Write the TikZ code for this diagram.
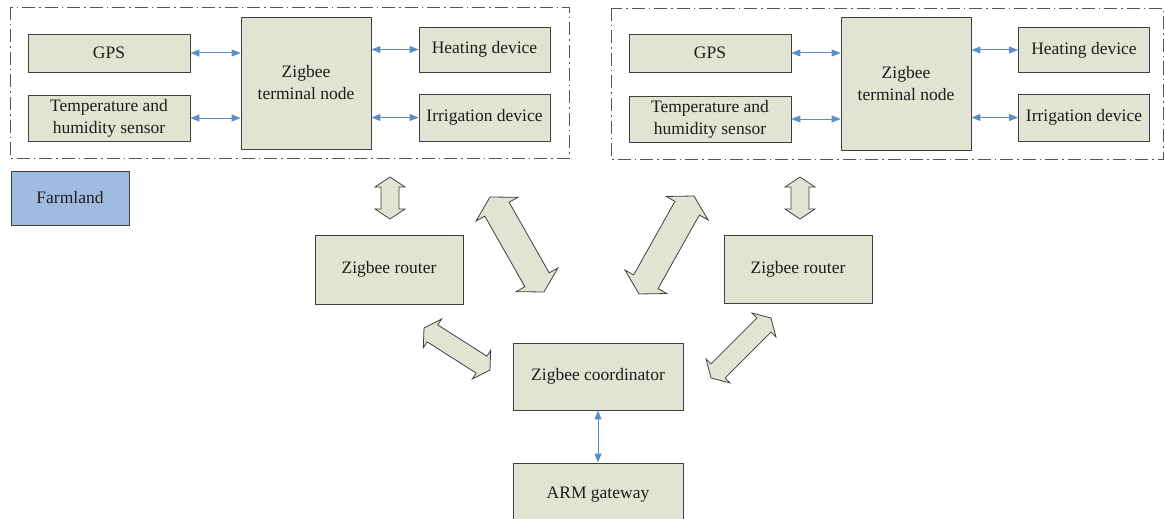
\documentclass[tikz,border=0pt]{standalone}
\usepackage{fontspec}
\setmainfont{Liberation Serif}
\usetikzlibrary{calc,arrows.meta}
\definecolor{boxfill}{HTML}{E1E3D3}
\definecolor{boxline}{HTML}{404040}
\definecolor{farmfill}{HTML}{A0BBE0}
\definecolor{lnk}{HTML}{5B8DCB}
\definecolor{txt}{HTML}{1E1E1E}
\definecolor{dashc}{HTML}{555555}
% double block arrow: from, to, shaft half-width, head half-width, head length (pt)
\newcommand\dblarrow[5]{%
  \draw[blockarrow] let \p1=(#1), \p2=(#2),
     \n1={scalar(atan2(\y2-\y1,\x2-\x1))}, \n2={scalar(veclen(\x2-\x1,\y2-\y1))-#5} in
    (\p1) -- ($(\p1)+(\n1:#5pt)+(\n1+90:#4pt)$) -- ($(\p1)+(\n1:#5pt)+(\n1+90:#3pt)$)
    -- ($(\p1)+(\n1:\n2pt)+(\n1+90:#3pt)$) -- ($(\p1)+(\n1:\n2pt)+(\n1+90:#4pt)$)
    -- (\p2) -- ($(\p1)+(\n1:\n2pt)+(\n1-90:#4pt)$) -- ($(\p1)+(\n1:\n2pt)+(\n1-90:#3pt)$)
    -- ($(\p1)+(\n1:#5pt)+(\n1-90:#3pt)$) -- ($(\p1)+(\n1:#5pt)+(\n1-90:#4pt)$) -- cycle;}
\tikzset{
  box/.style={draw=boxline, fill=boxfill, line width=0.9pt, text=txt, align=center,
    inner sep=0pt, font=\fontsize{17.5}{22}\selectfont},
  farmbox/.style={box, fill=farmfill},
  groupbox/.style={draw=dashc, line width=0.8pt, dash pattern=on 13pt off 4pt on 1.5pt off 4pt},
  link/.style={draw=lnk, line width=1pt, {Triangle[length=9pt,width=7pt]}-{Triangle[length=9pt,width=7pt]}},
  blockarrow/.style={draw=boxline, fill=boxfill, line width=0.8pt, line join=miter}
}
\begin{document}
\begin{tikzpicture}[x=1pt,y=-1pt]
\useasboundingbox (0,0) rectangle (1165,519);
\fill[white] (0,0) rectangle (1165,519);
\clip (0,0) rectangle (1165,519);

% left farmland group
\draw[groupbox] (10,7) rectangle (569,158);
\node[box, minimum width=162, minimum height=38] (gpsL) at (109,53) {GPS};
\node[box, minimum width=162, minimum height=46] (tempL) at (109,118) {Temperature and\\humidity sensor};
\node[box, minimum width=130, minimum height=132] (termL) at (306,83) {Zigbee\\terminal node};
\node[box, minimum width=131, minimum height=45] (heatL) at (484.5,49.5) {Heating device};
\node[box, minimum width=131, minimum height=47] (irrL) at (484.5,117.5) {Irrigation device};
\draw[link] (gpsL.east) -- (gpsL.east -| termL.west);
\draw[link] (tempL.east) -- (tempL.east -| termL.west);
\draw[link] (heatL.west -| termL.east) -- (heatL.west);
\draw[link] (irrL.west -| termL.east) -- (irrL.west);

% right farmland group
\draw[groupbox] (611,8) rectangle (1163,159);
\node[box, minimum width=162, minimum height=38] (gpsR) at (710,53) {GPS};
\node[box, minimum width=162, minimum height=46] (tempR) at (710,119) {Temperature and\\humidity sensor};
\node[box, minimum width=130, minimum height=133] (termR) at (906,83.5) {Zigbee\\terminal node};
\node[box, minimum width=131, minimum height=45] (heatR) at (1084,50) {Heating device};
\node[box, minimum width=131, minimum height=47] (irrR) at (1084,117.5) {Irrigation device};
\draw[link] (gpsR.east) -- (gpsR.east -| termR.west);
\draw[link] (tempR.east) -- (tempR.east -| termR.west);
\draw[link] (heatR.west -| termR.east) -- (heatR.west);
\draw[link] (irrR.west -| termR.east) -- (irrR.west);

% legend
\node[farmbox, minimum width=118, minimum height=54] (farm) at (70,198) {Farmland};

% network
\node[box, minimum width=148, minimum height=69] (routerL) at (389,269.5) {Zigbee router};
\node[box, minimum width=148, minimum height=68] (routerR) at (798,269) {Zigbee router};
\node[box, minimum width=170, minimum height=67] (coord) at (598,376.5) {Zigbee coordinator};
\node[box, minimum width=170, minimum height=64] (arm) at (598,495) {ARM gateway};
\draw[link] (coord.south) -- (arm.north);

% block arrows
\coordinate (vL1) at (390,177); \coordinate (vL2) at (390,219);
\coordinate (vR1) at (800,177); \coordinate (vR2) at (800,219);
\coordinate (bL1) at (490,197); \coordinate (bL2) at (544,292);
\coordinate (bR1) at (694,196); \coordinate (bR2) at (639,294);
\coordinate (sL1) at (424,328); \coordinate (sL2) at (490,370);
\coordinate (sR1) at (771,318); \coordinate (sR2) at (711,378);
\dblarrow{vL1}{vL2}{9}{15}{10}
\dblarrow{vR1}{vR2}{9}{15}{10}
\dblarrow{bL1}{bL2}{14}{24}{14}
\dblarrow{bR1}{bR2}{14}{24}{14}
\dblarrow{sL1}{sL2}{10}{17}{10}
\dblarrow{sR1}{sR2}{10}{17}{10}
\end{tikzpicture}
\end{document}
